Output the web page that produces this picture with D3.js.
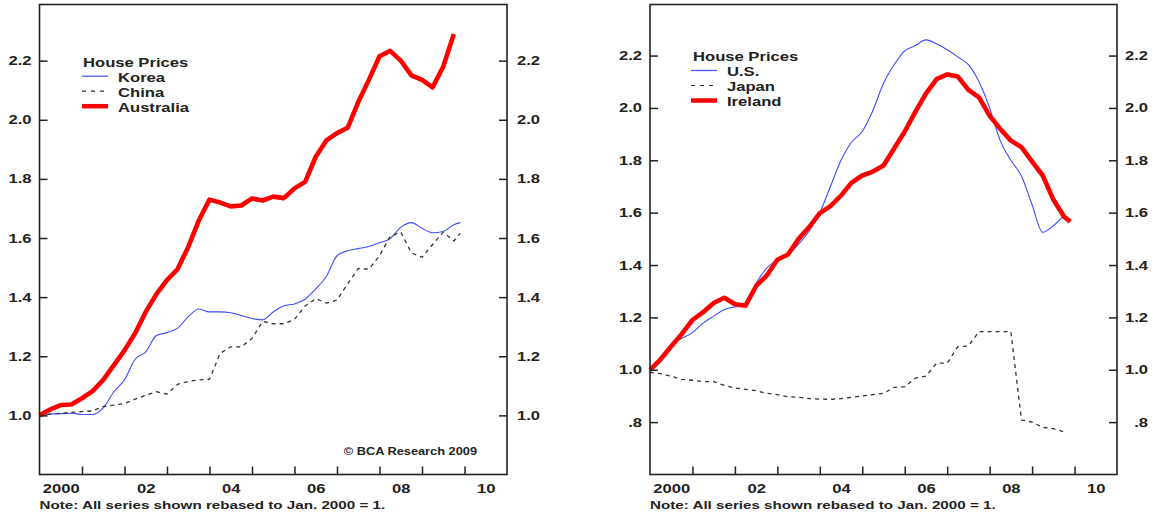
<!DOCTYPE html>
<html><head><meta charset="utf-8">
<script src="https://cdn.jsdelivr.net/npm/d3@7"></script>
<style>
body{margin:0;background:#fff;}
svg{display:block;font-family:"Liberation Sans",Arial,sans-serif;font-weight:bold;}
</style></head><body>
<svg id="c" width="1154" height="517"></svg>
<script>
// ---- data (decimal years, quarterly; last entry = latest observation) ----
const dates = [2000.00,2000.25,2000.50,2000.75,2001.00,2001.25,2001.50,2001.75,
  2002.00,2002.25,2002.50,2002.75,2003.00,2003.25,2003.50,2003.75,
  2004.00,2004.25,2004.50,2004.75,2005.00,2005.25,2005.50,2005.75,
  2006.00,2006.25,2006.50,2006.75,2007.00,2007.25,2007.50,2007.75,
  2008.00,2008.25,2008.50,2008.75,2009.00,2009.25,2009.50,2009.75,2009.90];

const korea = [1.000,1.004,1.006,1.007,1.003,1.003,1.025,1.080,1.120,1.190,1.215,1.270,
  1.280,1.295,1.334,1.360,1.350,1.350,1.347,1.338,1.328,1.323,1.350,1.371,
  1.377,1.393,1.428,1.470,1.540,1.557,1.564,1.571,1.584,1.598,1.636,1.652,
  1.633,1.618,1.622,1.645,1.652];
const china = [1.000,1.005,1.007,1.010,1.013,1.015,1.030,1.035,1.040,1.055,1.068,1.080,
  1.072,1.105,1.115,1.120,1.122,1.210,1.232,1.232,1.260,1.318,1.310,1.310,
  1.325,1.370,1.395,1.380,1.390,1.445,1.497,1.495,1.540,1.605,1.620,1.550,
  1.535,1.578,1.620,1.590,1.616];
const australia = [1.000,1.020,1.035,1.037,1.058,1.082,1.120,1.170,1.220,1.278,1.350,1.410,
  1.458,1.495,1.570,1.660,1.730,1.720,1.707,1.710,1.734,1.727,1.740,1.735,
  1.768,1.790,1.875,1.930,1.955,1.973,2.060,2.135,2.215,2.233,2.200,2.150,
  2.135,2.110,2.180,2.290];

const us = [1.000,1.040,1.095,1.120,1.142,1.178,1.205,1.230,1.240,1.244,1.330,1.388,
  1.420,1.440,1.480,1.530,1.600,1.700,1.800,1.870,1.910,1.990,2.094,2.165,
  2.218,2.238,2.260,2.245,2.222,2.195,2.165,2.100,2.000,1.875,1.800,1.740,
  1.630,1.525,1.550,1.590];
const japan = [0.990,0.985,0.975,0.963,0.960,0.955,0.955,0.940,0.930,0.925,0.920,0.910,
  0.905,0.897,0.895,0.890,0.888,0.887,0.890,0.895,0.900,0.905,0.910,0.933,
  0.935,0.968,0.976,1.025,1.025,1.088,1.091,1.146,1.146,1.146,1.146,0.808,
  0.800,0.780,0.775,0.763];
const ireland = [1.000,1.040,1.090,1.137,1.190,1.220,1.255,1.275,1.250,1.245,1.320,1.360,
  1.420,1.440,1.500,1.545,1.598,1.625,1.665,1.715,1.742,1.757,1.780,1.845,
  1.910,1.985,2.055,2.110,2.128,2.120,2.069,2.040,1.970,1.920,1.875,1.850,
  1.795,1.742,1.650,1.585,1.566];

const xTickYears = [2001,2002,2003,2004,2005,2006,2007,2008,2009,2010];
const xLabelYears = [2000,2002,2004,2006,2008,2010];
const xLabels = ["2000","02","04","06","08","10"];
const leftTicks = [1.0,1.2,1.4,1.6,1.8,2.0,2.2];
const leftTickLabels = ["1.0","1.2","1.4","1.6","1.8","2.0","2.2"];
const rightTicks = [0.8,1.0,1.2,1.4,1.6,1.8,2.0,2.2];
const rightTickLabels = [".8","1.0","1.2","1.4","1.6","1.8","2.0","2.2"];
const noteText = "Note: All series shown rebased to Jan. 2000 = 1.";
const legendTitle = "House Prices";

// ---- drawing ----
const svg = d3.select("#c");
const TOP = 4.5, BOT = 474.5, SX = 1.33, INK = "#222";

function stretch(sel, sx){
  sel.each(function(){
    const t = d3.select(this);
    const x = +t.attr("x") || 0, y = +t.attr("y") || 0;
    t.attr("x", null).attr("y", null)
     .attr("transform", `translate(${x},${y}) scale(${sx},1)`);
  });
}

const styles = {
  blue: {color:"#3a4dff", width:1.1, dash:null, curve:d3.curveMonotoneX},
  dash: {color:"#333", width:1.3, dash:"4,4", curve:d3.curveLinear},
  red:  {color:"#ff0000", width:4.6, dash:null, curve:d3.curveLinear}
};

function panel(cfg){
  const x = d3.scaleLinear().domain([2000, 2011]).range([cfg.left, cfg.right]);
  const y = d3.scaleLinear().domain(cfg.yDomain).range([BOT, TOP]);
  const g = svg.append("g");

  cfg.series.forEach(s => {
    const st = styles[s.style];
    const pts = s.values.map((v, i) => [dates[i], v]);
    g.append("path").datum(pts)
      .attr("fill", "none").attr("stroke", st.color).attr("stroke-width", st.width)
      .attr("stroke-dasharray", st.dash).attr("stroke-linejoin", "round")
      .attr("d", d3.line().x(d => x(d[0])).y(d => y(d[1])).curve(st.curve));
  });

  // frame
  g.append("rect").attr("x", cfg.left).attr("y", TOP)
    .attr("width", cfg.right - cfg.left).attr("height", BOT - TOP)
    .attr("fill", "none").attr("stroke", INK).attr("stroke-width", 1.6);

  const fmt = d => cfg.tickLabels[cfg.ticks.indexOf(d)];
  // left axis
  const la = g.append("g").attr("transform", `translate(${cfg.left},0)`)
    .call(d3.axisLeft(y).tickValues(cfg.ticks).tickFormat(fmt).tickSize(-8).tickPadding(8).tickSizeOuter(0));
  // right axis
  const ra = g.append("g").attr("transform", `translate(${cfg.right},0)`)
    .call(d3.axisRight(y).tickValues(cfg.ticks).tickFormat(fmt).tickSize(-8).tickPadding(cfg.rightPad).tickSizeOuter(0));
  ra.selectAll("text").attr("text-anchor", "end");
  // bottom ticks
  const ba = g.append("g").attr("transform", `translate(0,${BOT})`)
    .call(d3.axisBottom(x).tickValues(xTickYears).tickFormat("").tickSize(-8).tickSizeOuter(0));
  // bottom labels centered in each labelled year
  const bl = g.append("g").attr("transform", `translate(0,${BOT})`)
    .call(d3.axisBottom(x).tickValues(xLabelYears.map(v => v + 0.5))
      .tickFormat((d, i) => xLabels[i]).tickSize(0).tickPadding(10).tickSizeOuter(0));
  bl.selectAll("line").remove();

  [la, ra, ba, bl].forEach(a => {
    a.select(".domain").remove();
    a.selectAll("line").attr("stroke", INK).attr("stroke-width", 1.5);
    a.selectAll("text").attr("fill", INK).attr("font-size", 12.5)
      .attr("font-family", '"Liberation Sans",Arial,sans-serif').attr("font-weight", "bold");
    stretch(a.selectAll("text"), SX);
  });

  // legend
  const L = cfg.legend;
  const lg = g.append("g").attr("fill", INK).attr("font-size", 12.5);
  lg.append("text").attr("x", L.x).attr("y", L.y).text(legendTitle);
  cfg.series.forEach((s, i) => {
    const st = styles[s.style];
    const by = L.y + 15 * (i + 1);
    lg.append("line").attr("x1", L.lx).attr("x2", L.lx + 26)
      .attr("y1", by - 5.5).attr("y2", by - 5.5)
      .attr("stroke", st.color).attr("stroke-width", s.style === "red" ? 4.5 : 1.2)
      .attr("stroke-dasharray", s.style === "dash" ? "4,5" : null);
    lg.append("text").attr("x", L.lx + 36).attr("y", by).text(s.name);
  });
  stretch(lg.selectAll("text"), SX);

  // note
  const nt = g.append("text").attr("x", cfg.left).attr("y", 509)
    .attr("font-size", 11).attr("fill", INK).text(noteText);
  stretch(nt, 1.38);

  if (cfg.credit) {
    const ct = g.append("text").attr("x", cfg.right - 30).attr("y", 455)
      .attr("text-anchor", "end").attr("font-size", 10).attr("fill", INK).text(cfg.credit);
    stretch(ct, 1.28);
  }
}

panel({
  left: 39.5, right: 507, yDomain: [0.8, 2.39],
  ticks: leftTicks, tickLabels: leftTickLabels, rightPad: 33,
  legend: {x: 83, y: 66.7, lx: 82},
  credit: "\u00A9 BCA Research 2009",
  series: [
    {name: "Korea", values: korea, style: "blue"},
    {name: "China", values: china, style: "dash"},
    {name: "Australia", values: australia, style: "red"}
  ]
});
panel({
  left: 650, right: 1117, yDomain: [0.6, 2.395],
  ticks: rightTicks, tickLabels: rightTickLabels, rightPad: 31,
  legend: {x: 693, y: 61, lx: 691},
  series: [
    {name: "U.S.", values: us, style: "blue"},
    {name: "Japan", values: japan, style: "dash"},
    {name: "Ireland", values: ireland, style: "red"}
  ]
});
</script>
</body></html>
